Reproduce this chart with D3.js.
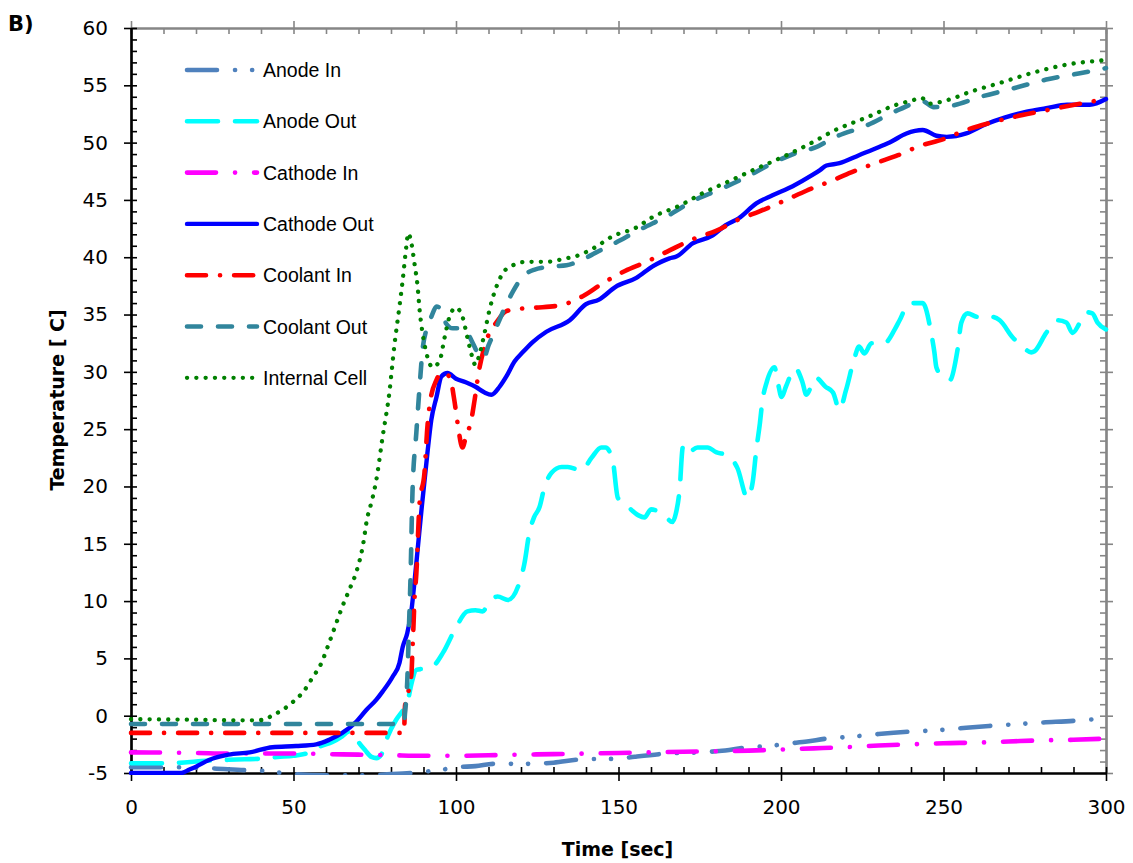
<!DOCTYPE html>
<html>
<head>
<meta charset="utf-8">
<script src="https://cdn.jsdelivr.net/npm/d3@7"></script>
<style>
body { margin: 0; background: #fff; }
</style>
</head>
<body>
<svg id="drawing_region"></svg>
<script>
// values, [time (sec), temperature (C)]
const anodeIn = [[0,-4.5],[15,-4.5],[25,-4.6],[35,-4.75],[40,-4.8],[45,-4.95],[50,-5.1],[60,-5.2],[70,-5.2],[80,-5.1],[86,-5.0],
    [91.5,-4.85],[97,-4.65],[100,-4.5],[106,-4.4],[112,-4.2],[122,-4.2],[130,-4.1],[139,-3.8],[150,-3.75],[155,-3.58],
    [165,-3.3],[175,-3.2],[181,-3.08],[190,-2.76],[196.5,-2.64],[202,-2.44],[208,-2.25],[214,-2.0],[221,-1.85],[230,-1.6],
    [239,-1.4],[249,-1.25],[257,-1.05],[264,-0.9],[272,-0.75],[280,-0.6],[290,-0.45],[297,-0.3],[300,-0.25]];

const anodeOut = [[0,-4.15],[10,-4.15],[15,-4.1],[20,-4.0],[25,-3.9],[30,-3.85],[35,-3.8],[40,-3.75],[45,-3.6],[50,-3.5],
    [55,-3.2],[58,-2.7],[62,-2.3],[65,-1.8],[67,-1.4],[68.5,-1.6],[70,-2.3],[72,-3.0],[74,-3.6],[75.5,-3.7],[77,-3.4],
    [79,-1.8],[81.5,-0.4],[84,0.6],[85,1.1],[86.3,2.8],[87.8,4.0],[90,4.1],[92.8,4.3],[96,5.5],[100,7.7],[103.5,9.1],
    [106,9.2],[108.2,9.1],[110,9.8],[112.8,10.4],[116,10.1],[119.5,11.6],[121,13.2],[122.6,16],[124,17.3],[125.7,18.2],
    [127.2,19.9],[129.4,21.2],[132.5,21.7],[134.4,21.7],[138.6,21.4],[141.7,22.5],[144.7,23.4],[146,23.4],[148.2,22.3],
    [149.8,19],[152.3,18.4],[156,17.5],[158,17.3],[160,18],[164,17.5],[166.6,16.9],[167.7,17.7],[168.8,19.7],[169.8,23.4],
    [170.8,22.8],[174.3,23.4],[177.4,23.4],[180,23.0],[183.6,22.7],[186.6,21.6],[189.7,19.0],[191.3,20.4],[192.4,23.2],
    [193.5,25.5],[194.3,27.5],[195.5,29],[198,30.4],[199,29.1],[200.2,27.8],[201.5,28.7],[204.4,30.3],[206.6,29.1],
    [207.8,28],[210.6,29.5],[213.7,28.7],[216,28.2],[218,26.7],[220,28.4],[222.6,31.2],[224,32.2],[225.7,31.6],[227.8,32.5],
    [231.8,32.5],[235,33.7],[236.5,34.5],[239.5,36],[243.6,36],[246.2,33.4],[247.2,31.7],[247.8,30.4],[249.7,29.6],
    [252,29.3],[254.3,31.9],[255.5,34.3],[257.4,35.1],[260.5,34.8],[264.7,34.8],[267.3,34.5],[271.3,33],[274,32.3],
    [277,31.7],[278,31.8],[281.6,33.4],[285,34.5],[287.8,34.3],[289.7,33.4],[292,34.3],[294,35.2],[295.8,35.1],
    [297.4,34.3],[300,33.7]];

const cathodeIn = [[0,-3.2],[10,-3.22],[20,-3.25],[30,-3.3],[40,-3.3],[50,-3.3],[60,-3.35],[70,-3.4],[80,-3.45],[90,-3.5],
    [100,-3.5],[110,-3.45],[120,-3.4],[130,-3.35],[140,-3.3],[150,-3.25],[160,-3.2],[170,-3.15],[180,-3.1],[190,-3.05],
    [200,-2.95],[210,-2.85],[220,-2.75],[230,-2.6],[240,-2.5],[250,-2.4],[260,-2.35],[270,-2.25],[280,-2.15],[290,-2.1],[300,-2.0]];

const cathodeOut = [[0,-5],[15.5,-5],[18,-4.7],[20,-4.45],[24,-3.87],[30,-3.4],[36.5,-3.2],[43.5,-2.75],[50.8,-2.65],[57,-2.5],
    [61,-2.1],[65,-1.5],[69.4,-0.5],[72.4,0.5],[75.5,1.4],[77.4,2.1],[80.5,3.4],[82.6,4.6],[83.6,6.0],[85,7.2],[86.3,9.2],
    [87.2,11.6],[88.2,14.5],[89.5,18.3],[91.2,22.9],[92.4,25.8],[94,27.8],[95.5,29.6],[97.4,29.9],[100,29.4],[103,29.1],
    [106,28.7],[108.8,28.2],[110.9,28],[113.4,28.7],[115.5,29.6],[118,30.9],[120.5,31.7],[123.6,32.6],[127.8,33.5],[135,34.5],
    [140,35.9],[144,36.3],[149,37.4],[155.5,38.2],[160.5,39.2],[165.7,39.9],[167.8,40.06],[172.8,41.2],[179,41.9],[183,42.8],
    [187,43.4],[192.4,44.7],[197.4,45.4],[203.6,46.2],[209.8,47.2],[212,47.6],[214,48],[218,48.2],[224,48.9],[230,49.6],
    [234,50.1],[238.6,50.8],[243.6,51.1],[247.8,50.6],[251,50.5],[257,50.8],[263,51.6],[269,52.2],[275.6,52.7],[281.6,53],
    [288,53.3],[295,53.3],[300,53.8]];

const coolantIn = [[0,-1.5],[84,-1.5],[84.3,0.8],[84.7,1.4],[86.3,3.7],[86.6,5.7],[86.9,7.7],[87.2,10],[87.8,12.4],[88.8,18.6],
    [90.3,21.2],[91.2,25.2],[92,27.3],[94,29.3],[95.5,29.9],[98,29.6],[99.5,27.5],[100.5,25.5],[102,23.4],[103,24.3],
    [104.7,25.8],[105.7,27.5],[107,30],[108.8,32.2],[109.7,33],[112.4,34.3],[115.5,35.3],[119.5,35.5],[124.6,35.6],[132,35.8],
    [139,36.6],[145,37.7],[152,38.8],[158.6,39.6],[165.7,40.6],[174,41.7],[180,42.3],[187,43.3],[193.4,44],[201.6,45],
    [207.8,45.8],[215,46.6],[221.6,47.4],[229,48.2],[236,48.9],[242.6,49.7],[250,50.3],[257,51.1],[264,51.7],[271,52.2],
    [279.5,52.7],[286.6,53.1],[294,53.5],[300,53.8]];

const coolantOut = [[0,-0.72],[84,-0.72],[84.3,0.2],[85,3],[85.5,7.5],[86,12],[86.6,19.4],[87.8,24.7],[88.8,28.7],[89.7,31.9],
    [90.9,33.7],[92.4,34.8],[94,35.7],[95.5,35.4],[97,34.2],[99,33.8],[101,33.8],[103,33.6],[105,32.6],[107,31.5],[108.5,31.2],
    [110,32.3],[112,33.6],[114.4,35.2],[117.5,37],[120.5,38.3],[124,38.9],[129.8,39.2],[134,39.3],[139,39.8],[143,40.4],
    [148,41.1],[156.5,42.4],[165.7,43.7],[172.8,44.9],[181,45.9],[189.4,47],[197.4,48.2],[205.7,49.2],[210.8,49.6],[216,50.4],
    [226.4,51.5],[236.5,52.9],[243.6,53.6],[247,53.1],[252,53.2],[261.4,54],[271,54.7],[281.6,55.5],[292,56.05],[300,56.5]];

const internalCell = [[0,-0.3],[10,-0.33],[20,-0.35],[30,-0.4],[38,-0.4],[41,-0.35],[43.5,0.03],[46.6,0.5],[50.8,1.45],[52.8,2],
    [55.8,3.3],[58.6,4.6],[60.5,6.0],[63.2,8.1],[65,9.5],[67.2,11],[69.4,12.6],[71.3,14.75],[72.8,17.4],[73.4,18],[75.5,20.6],
    [77.4,24.3],[79.5,28.2],[81,32.2],[82.6,35.7],[83.6,38],[84.7,40.9],[85.3,42.1],[86.3,41.2],[87.2,39.5],[88.2,37.4],
    [88.8,35.4],[89.7,33.4],[91.2,31.3],[92.8,30.4],[95,31],[96.5,33],[98,34.8],[100,35.6],[102,34.8],[103.5,33],[104.7,31.6],
    [106,30.6],[107,31.3],[108.8,33.4],[110.3,35.4],[112.4,37.4],[114.4,38.6],[117.5,39.3],[121.7,39.6],[127.8,39.6],[133,39.85],
    [138,40.2],[143,40.9],[148,41.8],[155.5,42.6],[160.5,43.5],[168.8,44.5],[176,45.6],[183,46.5],[191.4,47.6],[198.6,48.5],
    [206.8,49.6],[211.5,50.3],[216,51],[226.4,52.2],[235.5,53.3],[240.6,53.7],[243.2,53.9],[245.7,53.4],[251,53.7],[259,54.5],
    [267.3,55.2],[277.5,56.1],[287.8,56.8],[300,57.2]];

const seriesNames = ['Anode In', 'Anode Out', 'Cathode In', 'Cathode Out', 'Coolant In', 'Coolant Out', 'Internal Cell'];
const seriesValues = [anodeIn, anodeOut, cathodeIn, cathodeOut, coolantIn, coolantOut, internalCell];

const xTicks = [0, 50, 100, 150, 200, 250, 300];
const yTicks = [-5, 0, 5, 10, 15, 20, 25, 30, 35, 40, 45, 50, 55, 60];

// line look for each series
const styles = {
    'Anode In':      { color: '#4F81BD', width: 4.6, dash: '30,18,0.1,17,0.1,18' },
    'Anode Out':     { color: '#00FFFF', width: 4.6, dash: '31,17' },
    'Cathode In':    { color: '#FF00FF', width: 4.6, dash: '29,19,0.1,19' },
    'Cathode Out':   { color: '#0000FF', width: 4.4, dash: null },
    'Coolant In':    { color: '#FF0000', width: 4.6, dash: '19,14,0.1,14' },
    'Coolant Out':   { color: '#31859C', width: 4.6, dash: '14,17' },
    'Internal Cell': { color: '#008000', width: 4.3, dash: '0.1,9.2' }
};

const tickFont = '"DejaVu Sans", sans-serif';

class LineChart {
    constructor(config, data) {
        this.config = config;
        this.data = data;
        this.init();
    }

    init() {
        let self = this;
        const m = self.config.margin;

        self.svg = d3.select(self.config.parent)
            .attr('width', self.config.width)
            .attr('height', self.config.height);

        self.inner_width = self.config.width - m.left - m.right;
        self.inner_height = self.config.height - m.top - m.bottom;

        self.chart = self.svg.append('g')
            .attr('transform', `translate(${m.left},${m.top})`);

        self.xscale = d3.scaleLinear().domain([0, 300]).range([0, self.inner_width]);
        self.yscale = d3.scaleLinear().domain([-5, 60]).range([self.inner_height, 0]);

        self.svg.append('defs').append('clipPath').attr('id', 'plotclip')
            .append('rect')
            .attr('x', -3).attr('y', -3)
            .attr('width', self.inner_width + 6)
            .attr('height', self.inner_height + 5);
    }

    render() {
        let self = this;
        const gray = '#868686';
        const W = self.inner_width, H = self.inner_height;

        // top and right frame (gray) with ticks
        const topMinor = self.chart.append('g')
            .call(d3.axisTop(self.xscale).tickValues(d3.range(0, 301, 10)).tickSize(-6).tickSizeOuter(0).tickFormat(''));
        const topMajor = self.chart.append('g')
            .call(d3.axisTop(self.xscale).tickValues(xTicks).tickSize(7).tickSizeOuter(0).tickFormat(''));
        const rightMinor = self.chart.append('g').attr('transform', `translate(${W},0)`)
            .call(d3.axisRight(self.yscale).tickValues(d3.range(-5, 61, 1)).tickSize(-6).tickSizeOuter(0).tickFormat(''));
        const rightMajor = self.chart.append('g').attr('transform', `translate(${W},0)`)
            .call(d3.axisRight(self.yscale).tickValues(yTicks).tickSize(7).tickSizeOuter(0).tickFormat(''));
        [topMinor, topMajor, rightMinor, rightMajor].forEach(g => {
            g.selectAll('line').attr('stroke', gray).attr('stroke-width', 1.6);
            g.select('.domain').attr('stroke', gray).attr('stroke-width', 2.2);
        });

        // left axis
        const leftMinor = self.chart.append('g')
            .call(d3.axisRight(self.yscale).tickValues(d3.range(-5, 61, 1)).tickSize(6).tickSizeOuter(0).tickFormat(''));
        const leftMajor = self.chart.append('g')
            .call(d3.axisLeft(self.yscale).tickValues(yTicks).tickSize(7).tickPadding(16).tickSizeOuter(0)
                .tickFormat(d => String(d)));
        // bottom axis
        const bottomMinor = self.chart.append('g').attr('transform', `translate(0,${H})`)
            .call(d3.axisTop(self.xscale).tickValues(d3.range(0, 301, 10)).tickSize(6).tickSizeOuter(0).tickFormat(''));
        const bottomMajor = self.chart.append('g').attr('transform', `translate(0,${H})`)
            .call(d3.axisBottom(self.xscale).tickValues(xTicks).tickSize(8).tickPadding(19).tickSizeOuter(0)
                .tickFormat(d => String(d)));
        [leftMinor, leftMajor, bottomMinor, bottomMajor].forEach(g => {
            g.selectAll('line').attr('stroke', '#000').attr('stroke-width', 1.6);
            g.select('.domain').attr('stroke', '#000').attr('stroke-width', 2.2);
            g.selectAll('text').attr('font-family', tickFont).attr('font-size', 20).attr('fill', '#000');
        });

        // series
        const line = d3.line()
            .x(d => self.xscale(d[0]))
            .y(d => self.yscale(d[1]))
            .curve(d3.curveMonotoneX);

        const plot = self.chart.append('g').attr('clip-path', 'url(#plotclip)');
        self.data.forEach(s => {
            const st = styles[s.name];
            plot.append('path')
                .attr('d', line(s.values))
                .attr('fill', 'none')
                .attr('stroke', st.color)
                .attr('stroke-width', st.width)
                .attr('stroke-linecap', 'round')
                .attr('stroke-linejoin', 'round')
                .attr('stroke-dasharray', st.dash);
        });

        // legend
        const legend = self.svg.append('g').attr('transform', 'translate(187,70)');
        self.data.forEach((s, i) => {
            const st = styles[s.name];
            const row = legend.append('g').attr('transform', `translate(0,${i * 51.3})`);
            row.append('line')
                .attr('x1', 0).attr('x2', 70).attr('y1', 0).attr('y2', 0)
                .attr('stroke', st.color)
                .attr('stroke-width', st.width)
                .attr('stroke-linecap', 'round')
                .attr('stroke-dasharray', st.dash);
            row.append('text')
                .attr('x', 76).attr('y', 7)
                .attr('font-family', '"Liberation Sans", Arial, sans-serif')
                .attr('font-size', 19.5)
                .text(s.name);
        });

        // titles
        self.svg.append('text')
            .attr('x', self.config.margin.left + W / 2 - 1).attr('y', 856)
            .attr('text-anchor', 'middle')
            .attr('font-family', tickFont).attr('font-weight', 'bold').attr('font-size', 19)
            .text('Time [sec]');
        self.svg.append('text')
            .attr('transform', 'translate(64,400) rotate(-90)')
            .attr('text-anchor', 'middle')
            .attr('font-family', tickFont).attr('font-weight', 'bold').attr('font-size', 19)
            .text('Temperature [ C]');
        self.svg.append('text')
            .attr('x', 8).attr('y', 31)
            .attr('font-family', tickFont).attr('font-weight', 'bold').attr('font-size', 21)
            .text('B)');
    }
}

const config = {
    parent: '#drawing_region',
    width: 1133,
    height: 863,
    margin: { top: 28, right: 27, bottom: 90, left: 131 }
};

const data = seriesNames.map((name, i) => ({ name: name, values: seriesValues[i] }));
const chart = new LineChart(config, data);
chart.render();
</script>
</body>
</html>
